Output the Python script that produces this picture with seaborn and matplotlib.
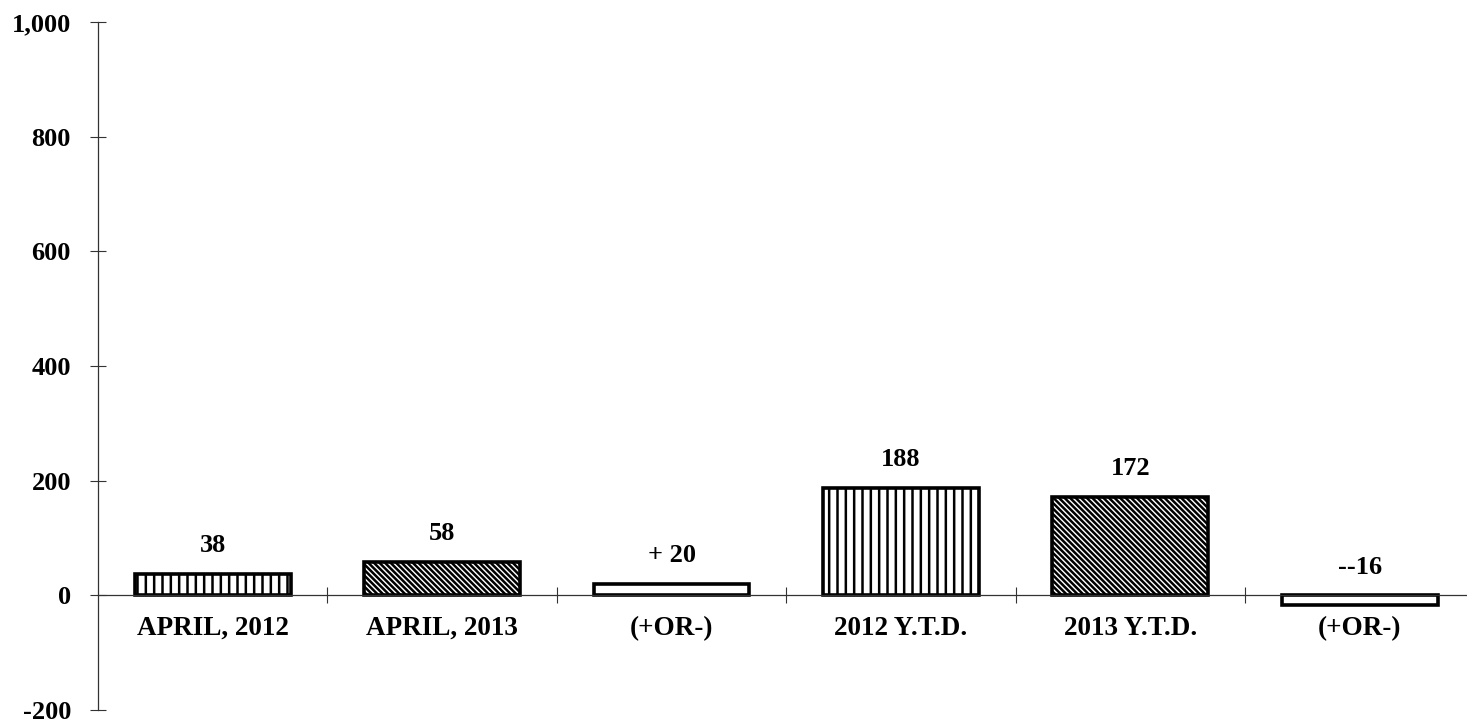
import matplotlib
matplotlib.use("Agg")
import matplotlib.pyplot as plt
import seaborn as sns
import pandas as pd
from matplotlib.ticker import FuncFormatter

categories = ["APRIL, 2012", "APRIL, 2013", "(+OR-)", "2012 Y.T.D.", "2013 Y.T.D.", "(+OR-)"]
values = [38, 58, 20, 188, 172, -16]
value_labels = ["38", "58", "+ 20", "188", "172", "--16"]
hatches = ["||", "\\" * 6, "", "||", "\\" * 6, ""]
yticks = [-200, 0, 200, 400, 600, 800, 1000]

sns.set_style("white")
plt.rcParams["font.family"] = ["Liberation Serif", "DejaVu Serif"]
plt.rcParams["font.weight"] = "bold"
plt.rcParams["hatch.linewidth"] = 1.8
plt.rcParams["text.color"] = "black"
plt.rcParams["xtick.color"] = "#333333"
plt.rcParams["ytick.color"] = "#333333"
plt.rcParams["xtick.labelcolor"] = "black"
plt.rcParams["ytick.labelcolor"] = "black"

df = pd.DataFrame({"pos": list(range(len(values))), "value": values})

fig = plt.figure(figsize=(14.67, 7.23), dpi=100)
ax = fig.add_axes([98 / 1467, 13 / 723, 6 * 229.4 / 1467, 688 / 723])

sns.barplot(data=df, x="pos", y="value", ax=ax, color="white", width=0.68,
            edgecolor="black", linewidth=2.6, saturation=1)

for p, h in zip(ax.patches, hatches):
    p.set_hatch(h)
    p.set_facecolor("white")
    p.set_edgecolor("black")

ax.set_xlim(-0.5, 5.5)
ax.set_ylim(-200, 1000)
ax.set_xlabel("")
ax.set_ylabel("")

for sp in ["top", "right"]:
    ax.spines[sp].set_visible(False)
ax.spines["bottom"].set_position(("data", 0))
for sp in ["bottom", "left"]:
    ax.spines[sp].set_linewidth(0.9)
    ax.spines[sp].set_color("#333333")

ax.set_xticks(range(len(categories)))
ax.set_xticklabels(categories, fontsize=19.5, fontweight="bold", color="black")
ax.set_xticks([i + 0.5 for i in range(len(categories) - 1)], minor=True)
ax.tick_params(axis="x", which="major", bottom=True, length=0, pad=15)
ax.tick_params(axis="x", which="minor", bottom=True, length=11, direction="inout", width=0.8)

ax.set_yticks(yticks)
ax.yaxis.set_major_formatter(FuncFormatter(lambda v, _: f"{int(v):,}"))
ax.tick_params(axis="y", left=True, length=11, direction="inout", width=0.8, pad=14, labelsize=19)
for t in ax.get_yticklabels():
    t.set_fontweight("bold")
    t.set_color("black")

for i, (v, lab) in enumerate(zip(values, value_labels)):
    ax.annotate(lab, xy=(i, max(v, 0)), xytext=(0, 12), textcoords="offset points",
                ha="center", va="bottom", fontsize=19, fontweight="bold", color="black")

fig.savefig("out.png", dpi=100)
